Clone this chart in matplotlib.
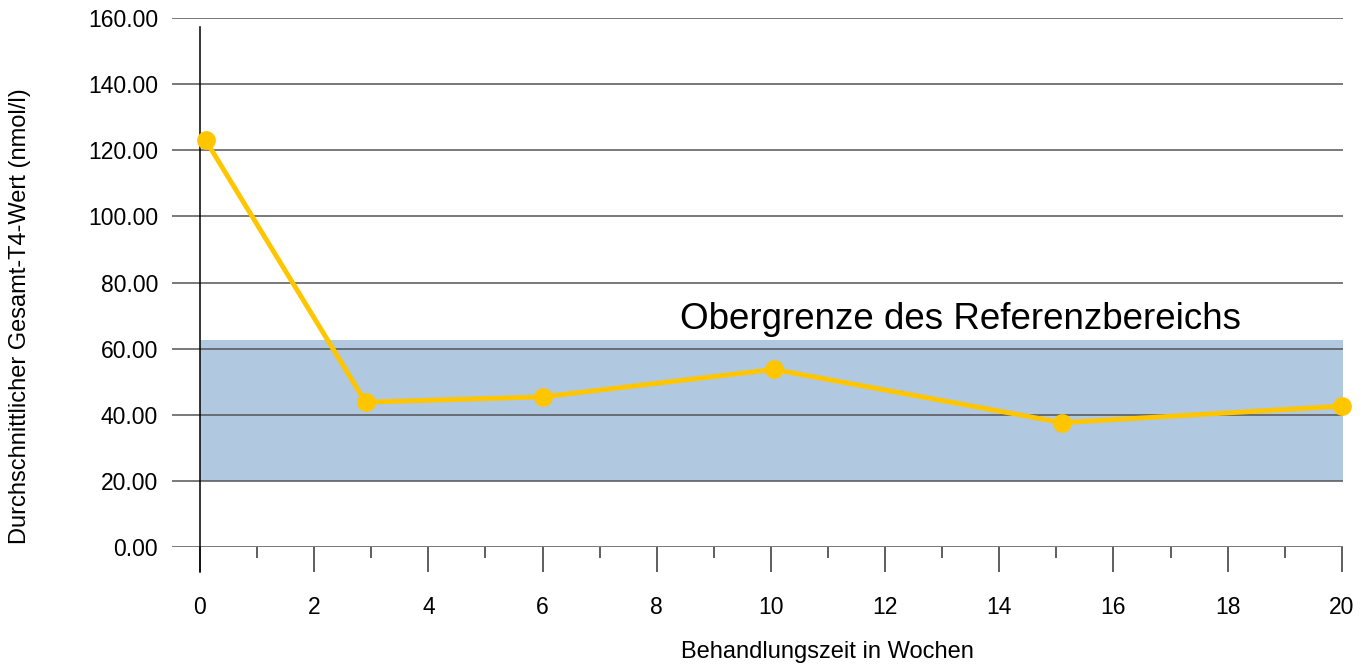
import matplotlib.pyplot as plt

# data
weeks = [0.1, 2.9, 6.0, 10.05, 15.1, 20.0]
t4_values = [123.0, 43.8, 45.4, 53.7, 37.6, 42.6]
ref_low = 20.0
ref_high = 62.6
x_ticks = list(range(0, 21, 2))
y_ticks = list(range(0, 161, 20))

plt.rcParams['font.family'] = ['Liberation Sans', 'DejaVu Sans']

fig = plt.figure(figsize=(13.67, 6.64), dpi=100)
# axes spans the gridline area: x 172..1343 px, y 18..547 px
ax = fig.add_axes([172 / 1367, 1 - 547 / 664, (1343 - 172) / 1367, (547 - 18) / 664])

ax.set_xlim(-0.49, 20.02)
ax.set_ylim(0, 160)

# reference band
ax.axhspan(ref_low, ref_high, xmin=0.49 / 20.51, xmax=1, color='#b0c8e0', zorder=1, lw=0)

# horizontal grid
for y in y_ticks:
  ax.axhline(y, color='#555555', lw=1.1, zorder=2)

# vertical axis line at x=0
ax.axvline(0, ymin=-25 / 529, ymax=520 / 529, color='black', lw=1.1, clip_on=False, zorder=2)

# the data line
ax.plot(weeks, t4_values, color='#ffc600', lw=3.5, marker='o', markersize=12.5,
        zorder=5, clip_on=False)

ax.text(8.41, 65.9, 'Obergrenze des Referenzbereichs', fontsize=26.5, va='baseline',
        ha='left', zorder=6)

for s in ax.spines.values():
  s.set_visible(False)

ax.set_xticks(x_ticks)
ax.set_xticks(range(1, 20, 2), minor=True)
ax.tick_params(axis='x', which='major', length=18, width=1.1, color='#333333',
               labelsize=16.5, pad=17)
ax.tick_params(axis='x', which='minor', length=8, width=1.1, color='#333333')
ax.set_yticks(y_ticks)
ax.set_yticklabels(['%.2f' % v for v in y_ticks])
ax.tick_params(axis='y', length=0, labelsize=16.5, pad=10)

ax.set_xlabel('Behandlungszeit in Wochen', fontsize=17)
ax.xaxis.set_label_coords((827 - 172) / 1171, -(652 - 547) / 529)
ax.xaxis.label.set_va('center')
ax.set_ylabel('Durchschnittlicher Gesamt-T4-Wert (nmol/l)', fontsize=17)
ax.yaxis.set_label_coords(-(172 - 20) / 1171, (547 - 316) / 529)
ax.yaxis.label.set_va('center')

fig.savefig('out.png', dpi=100)
